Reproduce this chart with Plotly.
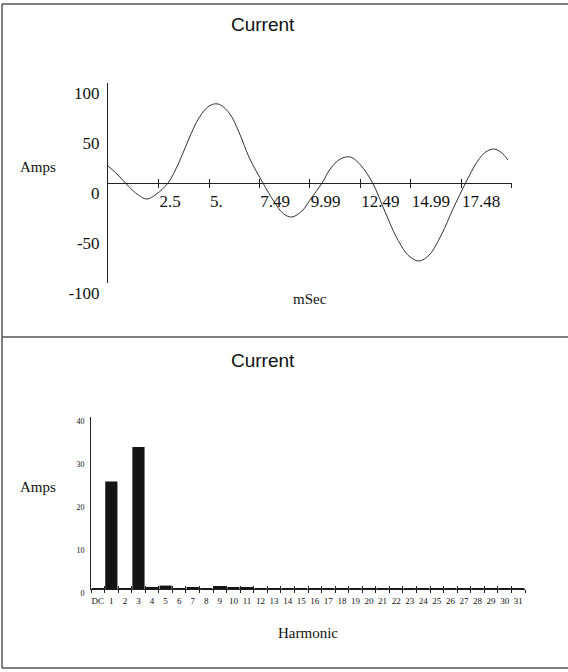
import plotly.graph_objects as go

# ---- Data: time-domain current ----
t_ms = [0.0, 0.5, 1.0, 1.5, 1.93, 2.4, 2.97, 3.5, 4.0, 4.5, 5.0, 5.45, 6.0, 6.5, 7.0,
        7.67, 8.2, 8.7, 9.1, 9.6, 10.1, 10.6, 11.0, 11.5, 12.0, 12.5, 13.1, 13.7,
        14.3, 14.9, 15.4, 15.9, 16.5, 17.1, 17.7, 18.3, 18.7, 19.1, 19.5, 19.8]
amps = [17, 8, -3, -12, -16, -11, 0, 20, 44, 65, 77, 79, 70, 50, 25,
        0, -18, -31, -34, -28, -14, 0, 14, 24, 26, 18, 0, -28,
        -55, -73, -78, -72, -52, -25, 0, 22, 31, 34, 30, 23]
time_tickvals = [2.5, 5.0, 7.49, 9.99, 12.49, 14.99, 17.48, 19.98]
time_ticktext = ["2.5", "5.", "7.49", "9.99", "12.49", "14.99", "17.48", ""]
amp_ticks = [-100, -50, 0, 50, 100]
amp_ticktext = ["-100", "-50", "0", "50", "100"]

# ---- Data: harmonic spectrum ----
harmonics = ["DC"] + [str(i) for i in range(1, 32)]
harm_amps = [0.1, 25.0, 0.2, 33.0, 0.3, 0.8, 0.1, 0.4, 0.1, 0.7, 0.3, 0.3,
             0.1, 0.1, 0.1, 0.1, 0.1, 0.1, 0.1, 0.1, 0.1, 0.1, 0.2, 0.2,
             0.2, 0.2, 0.2, 0.2, 0.2, 0.2, 0.2, 0.2]
harm_ticks = [0, 10, 20, 30, 40]

W, H = 568, 672
def px_x(v): return v / W
def px_y(v): return 1 - v / H

serif = "Liberation Serif, Times New Roman, serif"
sans = "Liberation Sans, Arial, sans-serif"
ink = "#222222"

fig = go.Figure()
fig.add_trace(go.Scatter(x=t_ms, y=amps, mode="lines", line=dict(color="#333333", width=1, shape="spline"),
                         xaxis="x", yaxis="y", showlegend=False, hoverinfo="skip"))
fig.add_trace(go.Scatter(x=[], y=[], xaxis="x3", yaxis="y", showlegend=False))
fig.add_trace(go.Bar(x=harmonics, y=harm_amps, marker=dict(color="#141414", line=dict(width=0)),
                     xaxis="x2", yaxis="y2", showlegend=False, hoverinfo="skip"))
fig.add_trace(go.Scatter(x=[], y=[], xaxis="x4", yaxis="y2", showlegend=False))

top_dom = [px_y(283), px_y(83)]
zero_pos = px_y(183)
bot_dom = [px_y(589), px_y(417)]

fig.update_layout(
    width=W, height=H, margin=dict(l=0, r=0, t=0, b=0, autoexpand=False),
    paper_bgcolor="white", plot_bgcolor="white", bargap=0.1,
    xaxis=dict(domain=[px_x(108), px_x(512)], range=[0, 20], anchor="free", position=zero_pos,
               automargin=False,
               showline=True, linecolor=ink, linewidth=1, showgrid=False, zeroline=False,
               tickmode="array", tickvals=time_tickvals, ticktext=time_ticktext,
               ticks="outside", ticklen=4, tickcolor=ink, ticklabelposition="outside right",
               ticklabelstandoff=3,
               tickfont=dict(family=serif, size=17, color="#111")),
    xaxis3=dict(overlaying="x", domain=[px_x(108), px_x(512)], range=[0, 20], anchor="free",
                position=zero_pos, showline=False, showgrid=False, zeroline=False, automargin=False,
                tickmode="array", tickvals=time_tickvals, ticks="inside", ticklen=4,
                tickcolor=ink, showticklabels=False),
    yaxis=dict(domain=top_dom, range=[-100, 100], anchor="x", showline=True, linecolor=ink,
               linewidth=1, showgrid=False, zeroline=False, ticks="", tickmode="array",
               tickvals=amp_ticks, ticktext=amp_ticktext, ticklabelshift=10, ticklabelstandoff=4,
               automargin=False,
               tickfont=dict(family=serif, size=17, color="#111")),
    xaxis2=dict(domain=[px_x(91), px_x(525)], range=[-0.5, 31.5], anchor="y2", type="category",
                showline=True, linecolor=ink, linewidth=1, showgrid=False, zeroline=False,
                tickson="boundaries", ticks="outside", ticklen=3, tickcolor=ink, tickangle=0,
                ticklabelstandoff=3, automargin=False,
                tickfont=dict(family=serif, size=9, color="#111")),
    xaxis4=dict(overlaying="x2", domain=[px_x(91), px_x(525)], range=[-0.5, 31.5], anchor="y2",
                showline=False, showgrid=False, zeroline=False, tickmode="linear", tick0=-0.5,
                dtick=1, ticks="inside", ticklen=3, tickcolor=ink, showticklabels=False,
                automargin=False),
    yaxis2=dict(domain=bot_dom, range=[0, 40], anchor="x2", showline=True, linecolor=ink,
                linewidth=1, showgrid=False, zeroline=False, ticks="", tickmode="array",
                tickvals=harm_ticks, ticklabelshift=4, ticklabelstandoff=4, automargin=False,
                tickfont=dict(family=serif, size=8, color="#111")),
)

ann = [
    dict(text="Current", x=px_x(263), y=px_y(25), font=dict(family=sans, size=19, color="#111")),
    dict(text="Current", x=px_x(263), y=px_y(360), font=dict(family=sans, size=19, color="#111")),
    dict(text="Amps", x=px_x(38), y=px_y(167), font=dict(family=serif, size=15, color="#111")),
    dict(text="mSec", x=px_x(310), y=px_y(299), font=dict(family=serif, size=15, color="#111")),
    dict(text="Amps", x=px_x(38), y=px_y(487), font=dict(family=serif, size=15, color="#111")),
    dict(text="Harmonic", x=px_x(308), y=px_y(633), font=dict(family=serif, size=15, color="#111")),
]
for a in ann:
    fig.add_annotation(xref="paper", yref="paper", showarrow=False, xanchor="center",
                       yanchor="middle", **a)

frame = "#555555"
for y0 in (4, 337, 668):
    fig.add_shape(type="line", xref="paper", yref="paper", x0=px_x(2), x1=1,
                  y0=px_y(y0), y1=px_y(y0), line=dict(color=frame, width=1.5))
fig.add_shape(type="line", xref="paper", yref="paper", x0=px_x(2), x1=px_x(2),
              y0=px_y(4), y1=px_y(668), line=dict(color=frame, width=1.5))

fig.write_html("out.html")
